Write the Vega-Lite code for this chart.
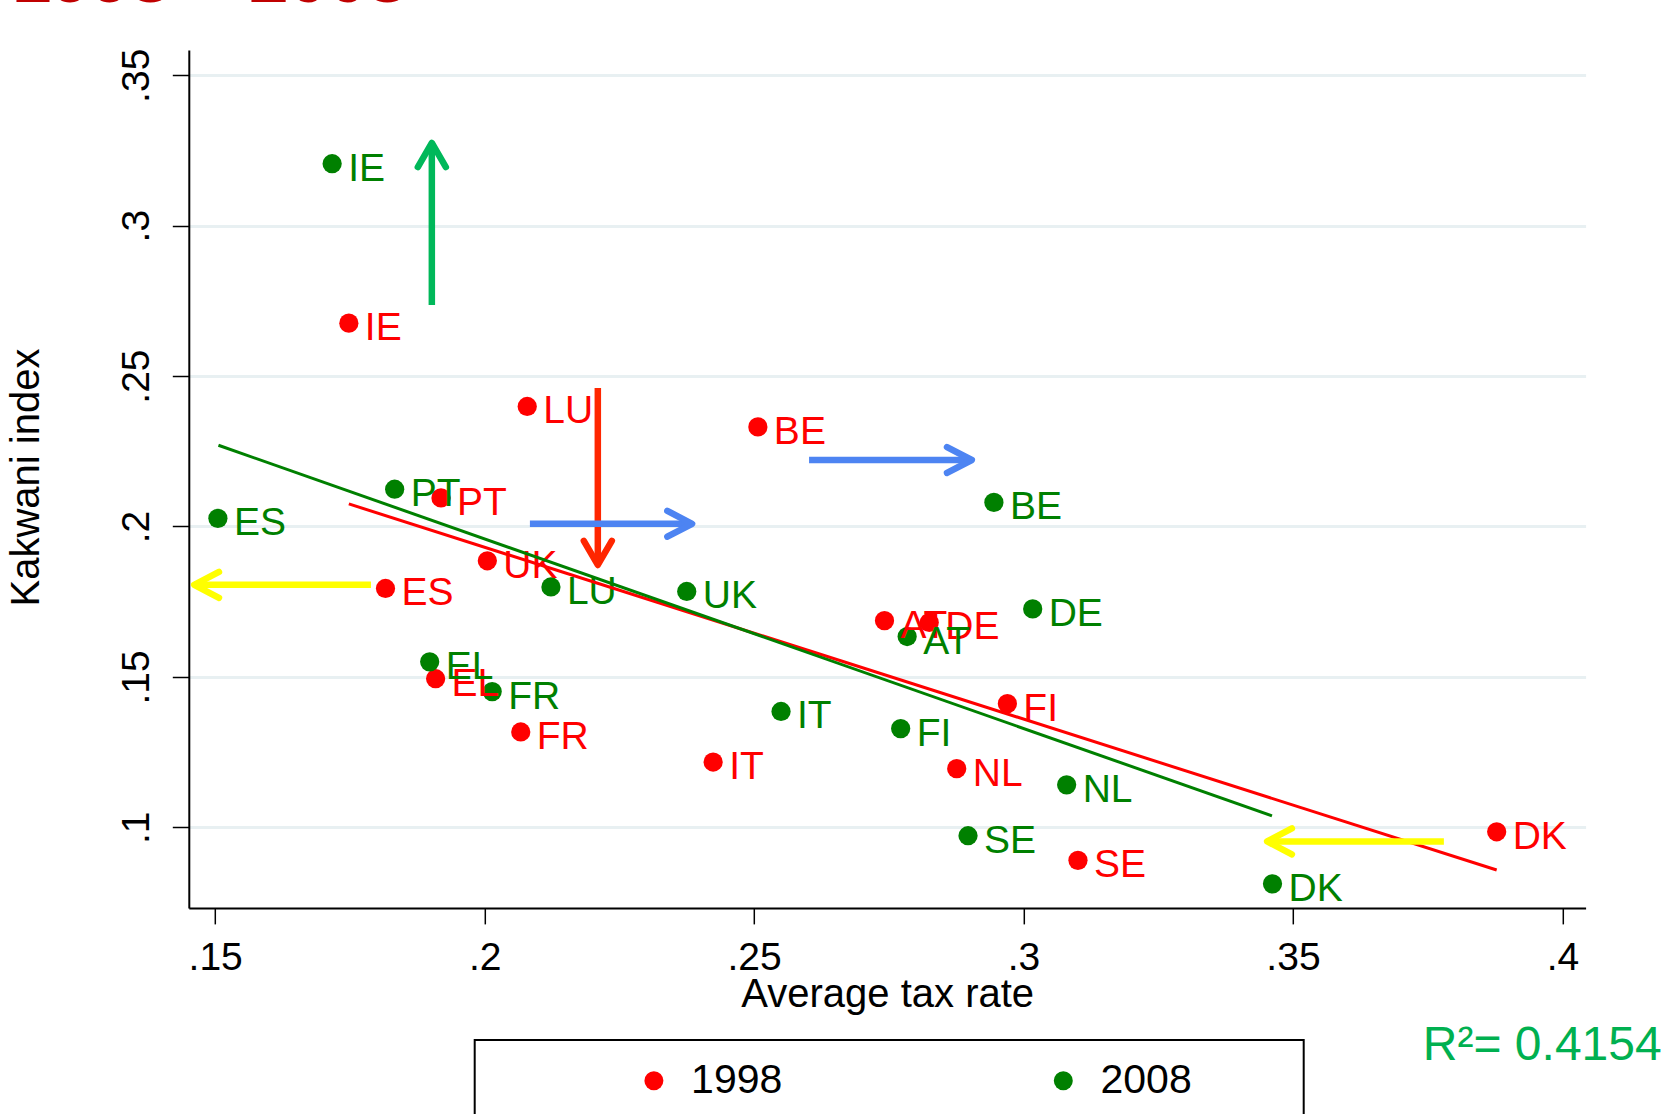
{
  "$schema": "https://vega.github.io/schema/vega-lite/v6.json",
  "width": 1396.8,
  "height": 857.9,
  "autosize": {"type": "none"},
  "padding": {"left": 188.8, "top": 50, "right": 77.4, "bottom": 206.1},
  "background": "white",
  "config": {"view": {"stroke": null}, "font": "Liberation Sans", "legend": {"strokeWidth": 2}},
  "datasets": {
    "pts": [
      {"country": "IE", "year": "1998", "x": 0.1748, "y": 0.2676},
      {"country": "LU", "year": "1998", "x": 0.2079, "y": 0.2399},
      {"country": "BE", "year": "1998", "x": 0.2507, "y": 0.2331},
      {"country": "PT", "year": "1998", "x": 0.1919, "y": 0.2095},
      {"country": "UK", "year": "1998", "x": 0.2005, "y": 0.1886},
      {"country": "ES", "year": "1998", "x": 0.1816, "y": 0.1794},
      {"country": "AT", "year": "1998", "x": 0.2742, "y": 0.1687},
      {"country": "DE", "year": "1998", "x": 0.2825, "y": 0.1681},
      {"country": "EL", "year": "1998", "x": 0.1909, "y": 0.1494},
      {"country": "FI", "year": "1998", "x": 0.2970, "y": 0.1411},
      {"country": "FR", "year": "1998", "x": 0.2067, "y": 0.1317},
      {"country": "IT", "year": "1998", "x": 0.2424, "y": 0.1217},
      {"country": "NL", "year": "1998", "x": 0.2876, "y": 0.1195},
      {"country": "SE", "year": "1998", "x": 0.3101, "y": 0.0890},
      {"country": "DK", "year": "1998", "x": 0.3878, "y": 0.0985},
      {"country": "IE", "year": "2008", "x": 0.1717, "y": 0.3206},
      {"country": "PT", "year": "2008", "x": 0.1833, "y": 0.2124},
      {"country": "ES", "year": "2008", "x": 0.1505, "y": 0.2027},
      {"country": "BE", "year": "2008", "x": 0.2945, "y": 0.2080},
      {"country": "LU", "year": "2008", "x": 0.2123, "y": 0.1799},
      {"country": "UK", "year": "2008", "x": 0.2375, "y": 0.1784},
      {"country": "DE", "year": "2008", "x": 0.3017, "y": 0.1726},
      {"country": "AT", "year": "2008", "x": 0.2784, "y": 0.1634},
      {"country": "EL", "year": "2008", "x": 0.1898, "y": 0.1550},
      {"country": "FR", "year": "2008", "x": 0.2014, "y": 0.1451},
      {"country": "IT", "year": "2008", "x": 0.2550, "y": 0.1385},
      {"country": "FI", "year": "2008", "x": 0.2772, "y": 0.1328},
      {"country": "NL", "year": "2008", "x": 0.3080, "y": 0.1141},
      {"country": "SE", "year": "2008", "x": 0.2897, "y": 0.0972},
      {"country": "DK", "year": "2008", "x": 0.3462, "y": 0.0812}
    ],
    "fits": [
      {"kind": "fit1998", "o": 1, "x": 0.1748, "y": 0.2075},
      {"kind": "fit1998", "o": 2, "x": 0.3878, "y": 0.0858},
      {"kind": "fit2008", "o": 1, "x": 0.1506, "y": 0.2270},
      {"kind": "fit2008", "o": 2, "x": 0.3461, "y": 0.1038}
    ],
    "shafts": [
      {"id": "g", "kind": "green", "o": 1, "x": 0.1902, "y": 0.2736},
      {"id": "g", "kind": "green", "o": 2, "x": 0.1902, "y": 0.3275},
      {"id": "r", "kind": "red", "o": 1, "x": 0.2210, "y": 0.2460},
      {"id": "r", "kind": "red", "o": 2, "x": 0.2210, "y": 0.1872},
      {"id": "b1", "kind": "blue", "o": 1, "x": 0.2084, "y": 0.2009},
      {"id": "b1", "kind": "blue", "o": 2, "x": 0.2385, "y": 0.2009},
      {"id": "b2", "kind": "blue", "o": 1, "x": 0.2602, "y": 0.2221},
      {"id": "b2", "kind": "blue", "o": 2, "x": 0.2904, "y": 0.2221},
      {"id": "y1", "kind": "yellow", "o": 1, "x": 0.1789, "y": 0.1806},
      {"id": "y1", "kind": "yellow", "o": 2, "x": 0.1461, "y": 0.1806},
      {"id": "y2", "kind": "yellow", "o": 1, "x": 0.3780, "y": 0.0953},
      {"id": "y2", "kind": "yellow", "o": 2, "x": 0.3452, "y": 0.0953}
    ],
    "heads": [
      {"id": "g", "kind": "green", "o": 1, "x": 0.1876, "y": 0.3195},
      {"id": "g", "kind": "green", "o": 2, "x": 0.1902, "y": 0.3275},
      {"id": "g", "kind": "green", "o": 3, "x": 0.1928, "y": 0.3195},
      {"id": "r", "kind": "red", "o": 1, "x": 0.2184, "y": 0.1952},
      {"id": "r", "kind": "red", "o": 2, "x": 0.2210, "y": 0.1872},
      {"id": "r", "kind": "red", "o": 3, "x": 0.2236, "y": 0.1952},
      {"id": "b1", "kind": "blue", "o": 1, "x": 0.2339, "y": 0.2052},
      {"id": "b1", "kind": "blue", "o": 2, "x": 0.2385, "y": 0.2009},
      {"id": "b1", "kind": "blue", "o": 3, "x": 0.2339, "y": 0.1966},
      {"id": "b2", "kind": "blue", "o": 1, "x": 0.2858, "y": 0.2264},
      {"id": "b2", "kind": "blue", "o": 2, "x": 0.2904, "y": 0.2221},
      {"id": "b2", "kind": "blue", "o": 3, "x": 0.2858, "y": 0.2178},
      {"id": "y1", "kind": "yellow", "o": 1, "x": 0.1507, "y": 0.1849},
      {"id": "y1", "kind": "yellow", "o": 2, "x": 0.1461, "y": 0.1806},
      {"id": "y1", "kind": "yellow", "o": 3, "x": 0.1507, "y": 0.1763},
      {"id": "y2", "kind": "yellow", "o": 1, "x": 0.3498, "y": 0.0996},
      {"id": "y2", "kind": "yellow", "o": 2, "x": 0.3452, "y": 0.0953},
      {"id": "y2", "kind": "yellow", "o": 3, "x": 0.3498, "y": 0.0910}
    ],
    "notes": [
      {"label": "R²= 0.4154", "x": 0.3741, "y": 0.0227}
    ],
    "heading": [
      {"label": "1998 – 2008", "x": 0.1123, "y": 0.3745}
    ]
  },
  "encoding": {
    "x": {
      "field": "x",
      "type": "quantitative",
      "scale": {"domain": [0.1451, 0.4043], "zero": false, "nice": false},
      "axis": {
        "title": "Average tax rate",
        "values": [0.15, 0.2, 0.25, 0.3, 0.35, 0.4],
        "labelExpr": "replace(format(datum.value, '.2~f'), '0.', '.')",
        "grid": false,
        "domainColor": "black",
        "domainWidth": 2,
        "tickColor": "black",
        "tickWidth": 1.5,
        "tickSize": 16,
        "labelFontSize": 39,
        "labelColor": "black",
        "labelBaseline": "alphabetic",
        "labelPadding": 46,
        "labelFlush": false,
        "labelOverlap": false,
        "titleFontSize": 40,
        "titleFontWeight": "normal",
        "titleColor": "black",
        "titleBaseline": "alphabetic",
        "titleY": 99
      }
    },
    "y": {
      "field": "y",
      "type": "quantitative",
      "scale": {"domain": [0.0732, 0.3584], "zero": false, "nice": false},
      "axis": {
        "title": "Kakwani index",
        "values": [0.1, 0.15, 0.2, 0.25, 0.3, 0.35],
        "labelExpr": "replace(format(datum.value, '.2~f'), '0.', '.')",
        "grid": true,
        "gridColor": "#e8f0f2",
        "gridWidth": 3,
        "domainColor": "black",
        "domainWidth": 2,
        "tickColor": "black",
        "tickWidth": 1.5,
        "tickSize": 16.5,
        "labelAngle": 270,
        "labelAlign": "center",
        "labelBaseline": "alphabetic",
        "labelPadding": 23.5,
        "labelFontSize": 39,
        "labelColor": "black",
        "labelFlush": false,
        "labelOverlap": false,
        "titleFontSize": 40,
        "titleFontWeight": "normal",
        "titleColor": "black",
        "titleAngle": 270,
        "titleAlign": "center",
        "titleBaseline": "alphabetic",
        "titleX": -150.5,
        "titleY": 427
      }
    }
  },
  "layer": [
    {
      "data": {"name": "pts"},
      "mark": {"type": "circle", "size": 370, "opacity": 1},
      "encoding": {
        "color": {
          "field": "year",
          "type": "nominal",
          "scale": {"domain": ["1998", "2008"], "range": ["#ff0000", "#008000"]},
          "legend": {
            "orient": "none",
            "legendX": 285.9,
            "legendY": 990,
            "direction": "horizontal",
            "title": "\u00a0",
            "titleOrient": "left",
            "titleFontSize": 10,
            "titlePadding": 138.7,
            "padding": 20,
            "strokeColor": "black",
            "fillColor": "white",
            "symbolType": "circle",
            "symbolSize": 360,
            "symbolStrokeWidth": 0,
            "symbolOpacity": 1,
            "labelFontSize": 41,
            "labelColor": "black",
            "labelOffset": 16.7,
            "labelLimit": 500,
            "columnPadding": 260.4,
            "labelExpr": "datum.label == '2008' ? '2008\u00a0\u00a0\u00a0\u00a0\u00a0\u00a0\u00a0\u00a0\u200b' : datum.label"
          }
        }
      }
    },
    {
      "data": {"name": "pts"},
      "mark": {"type": "text", "align": "left", "baseline": "middle", "dx": 16, "dy": 5, "fontSize": 39},
      "encoding": {
        "text": {"field": "country"},
        "fill": {
          "field": "year",
          "type": "nominal",
          "scale": {"domain": ["1998", "2008"], "range": ["#ff0000", "#008000"]},
          "legend": null
        }
      }
    },
    {
      "data": {"name": "fits"},
      "mark": {"type": "line", "strokeWidth": 3},
      "encoding": {
        "order": {"field": "o"},
        "detail": {"field": "kind"},
        "stroke": {
          "field": "kind",
          "type": "nominal",
          "scale": {
            "domain": ["fit1998", "fit2008", "green", "red", "blue", "yellow"],
            "range": ["#ff0000", "#008000", "#00b85a", "#ff2600", "#4d84f2", "#ffff00"]
          },
          "legend": null
        }
      }
    },
    {
      "data": {"name": "shafts"},
      "mark": {"type": "line", "strokeWidth": 6.5, "strokeCap": "butt"},
      "encoding": {
        "order": {"field": "o"},
        "detail": {"field": "id"},
        "stroke": {
          "field": "kind",
          "type": "nominal",
          "scale": {
            "domain": ["fit1998", "fit2008", "green", "red", "blue", "yellow"],
            "range": ["#ff0000", "#008000", "#00b85a", "#ff2600", "#4d84f2", "#ffff00"]
          },
          "legend": null
        }
      }
    },
    {
      "data": {"name": "heads"},
      "mark": {"type": "line", "strokeWidth": 6.5, "strokeCap": "round", "strokeJoin": "round"},
      "encoding": {
        "order": {"field": "o"},
        "detail": {"field": "id"},
        "stroke": {
          "field": "kind",
          "type": "nominal",
          "scale": {
            "domain": ["fit1998", "fit2008", "green", "red", "blue", "yellow"],
            "range": ["#ff0000", "#008000", "#00b85a", "#ff2600", "#4d84f2", "#ffff00"]
          },
          "legend": null
        }
      }
    },
    {
      "data": {"name": "notes"},
      "mark": {"type": "text", "align": "left", "baseline": "alphabetic", "fontSize": 48, "color": "#00b050"},
      "encoding": {
        "text": {"field": "label"}
      }
    },
    {
      "data": {"name": "heading"},
      "mark": {"type": "text", "align": "left", "baseline": "alphabetic", "fontSize": 71, "fontWeight": "bold", "color": "#c00000"},
      "encoding": {
        "text": {"field": "label"}
      }
    }
  ]
}
